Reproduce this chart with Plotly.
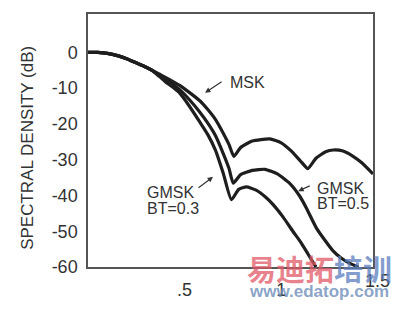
import plotly.graph_objects as go

# ---- data ----
freq_msk = [0, 0.05, 0.10, 0.157, 0.20, 0.243, 0.29, 0.33, 0.37, 0.40, 0.44, 0.476, 0.524, 0.58,
            0.62, 0.66, 0.70, 0.73, 0.755,
            0.79, 0.85, 0.94, 1.00, 1.05, 1.10, 1.138, 1.18, 1.23, 1.27, 1.32, 1.37, 1.42, 1.475]
msk_db = [0, -0.05, -0.3, -1.0, -1.8, -2.8, -3.9, -5.0, -6.1, -7.0, -8.2, -9.3, -11.2, -13.6,
          -16.0, -18.8, -22.6, -25.8, -29.1,
          -26.6, -24.8, -24.2, -25.3, -27.5, -30.4, -32.5, -29.6, -27.8, -27.3, -27.6, -29.0, -31.0, -34.0]

freq_b05 = [0, 0.05, 0.10, 0.157, 0.20, 0.243, 0.29, 0.33, 0.37, 0.40, 0.44, 0.476, 0.524, 0.58,
            0.62, 0.66, 0.70, 0.73, 0.752,
            0.79, 0.85, 0.916, 0.98, 1.045, 1.097, 1.13, 1.183, 1.23, 1.267, 1.31, 1.355, 1.40]
b05_db = [0, -0.05, -0.3, -1.0, -1.8, -2.8, -3.9, -5.0, -6.5, -7.6, -9.0, -10.5, -13.2, -16.8,
          -19.8, -23.3, -28.3, -32.5, -36.6,
          -34.2, -33.0, -32.7, -34.0, -36.7, -40.3, -43.5, -49.2, -52.8, -55.4, -57.5, -59.0, -60.0]

freq_b03 = [0, 0.05, 0.10, 0.157, 0.20, 0.243, 0.29, 0.33, 0.37, 0.40, 0.44, 0.476, 0.524, 0.58,
            0.62, 0.66, 0.70, 0.742,
            0.78, 0.82, 0.87, 0.92, 0.957, 1.009, 1.06, 1.10, 1.14, 1.18]
b03_db = [0, -0.05, -0.3, -1.0, -1.8, -2.8, -3.9, -5.0, -6.8, -8.2, -9.8, -11.5, -15.0, -19.6,
          -23.0, -27.4, -33.8, -41.2,
          -38.3, -37.6, -38.5, -40.5, -42.5, -46.0, -50.0, -53.0, -56.5, -60.0]

x_ticks = [0.5, 1.0]
x_tick_labels = [".5", "1"]
x_last_label = "1.5"
y_ticks = [0, -10, -20, -30, -40, -50, -60]
y_tick_labels = ["0", "-10", "-20", "-30", "-40", "-50", "-60"]

FONT = "Arial, Liberation Sans, sans-serif"
LINE = "#1e1e1e"
TXT = "#333333"

fig = go.Figure()
for fx, fy, nm in [(freq_msk, msk_db, "MSK"), (freq_b05, b05_db, "GMSK BT=0.5"),
                   (freq_b03, b03_db, "GMSK BT=0.3")]:
    fig.add_trace(go.Scatter(x=fx, y=fy, mode="lines", name=nm,
                             line=dict(color=LINE, width=3.2, shape="spline", smoothing=0.5),
                             cliponaxis=True, hoverinfo="skip"))

fig.update_layout(
    width=399, height=312,
    margin=dict(l=88, r=26, t=13, b=35),
    paper_bgcolor="white", plot_bgcolor="white",
    showlegend=False,
    font=dict(family=FONT, color=TXT, size=18),
)
fig.update_xaxes(range=[0, 1.475], tickvals=x_ticks, ticktext=x_tick_labels,
                 showgrid=False, zeroline=False, showline=True, mirror=True,
                 linecolor="#555555", linewidth=1.5, ticks="", ticklabelstandoff=6,
                 tickfont=dict(size=18, family=FONT, color=TXT))
fig.update_yaxes(range=[-60, 10.7], tickvals=y_ticks, ticktext=y_tick_labels,
                 showgrid=False, zeroline=False, showline=True, mirror=True,
                 linecolor="#555555", linewidth=1.5, ticks="", ticklabelstandoff=5,
                 tickfont=dict(size=18, family=FONT, color=TXT))

# last x tick label (1.5) lies just beyond the plotted range
fig.add_annotation(text=x_last_label, xref="paper", yref="paper", x=1.0175, y=-0.057,
                   xanchor="center", yanchor="middle", showarrow=False,
                   font=dict(size=18, family=FONT, color=TXT))

# y axis title
fig.add_annotation(text="SPECTRAL DENSITY (dB)", xref="paper", yref="paper",
                   x=-0.215, y=0.47, xanchor="center", yanchor="middle",
                   textangle=-90, showarrow=False,
                   font=dict(size=17, family=FONT, color=TXT))

# curve labels
ann_font = dict(size=16, family=FONT, color=TXT)
fig.add_annotation(text="MSK", x=0.725, y=-8.5, xanchor="left", yanchor="middle",
                   showarrow=False, font=ann_font)
fig.add_annotation(text="", x=0.606, y=-11.3, ax=18, ay=-12, showarrow=True,
                   arrowhead=2, arrowsize=0.9, arrowwidth=1.2, arrowcolor=TXT)

fig.add_annotation(text="GMSK", x=0.295, y=-39.2, xanchor="left", yanchor="middle",
                   showarrow=False, font=ann_font)
fig.add_annotation(text="BT=0.3", x=0.295, y=-43.6, xanchor="left", yanchor="middle",
                   showarrow=False, font=ann_font)
fig.add_annotation(text="", x=0.647, y=-34.8, ax=-16, ay=12, showarrow=True,
                   arrowhead=2, arrowsize=0.9, arrowwidth=1.2, arrowcolor=TXT)

fig.add_annotation(text="GMSK", x=1.175, y=-38.0, xanchor="left", yanchor="middle",
                   showarrow=False, font=ann_font)
fig.add_annotation(text="BT=0.5", x=1.175, y=-42.3, xanchor="left", yanchor="middle",
                   showarrow=False, font=ann_font)
fig.add_annotation(text="", x=1.088, y=-38.8, ax=13, ay=-6, showarrow=True,
                   arrowhead=2, arrowsize=0.9, arrowwidth=1.2, arrowcolor=TXT)

# watermark
wm_font = "Noto Sans CJK SC"
fig.add_annotation(text="<b>易迪拓</b>", xref="paper", yref="paper", x=0.709, y=-0.004,
                   xanchor="center", yanchor="middle", showarrow=False,
                   font=dict(size=29, family=wm_font, color="rgba(225,90,105,0.75)"))
fig.add_annotation(text="<b>培训</b>", xref="paper", yref="paper", x=0.965, y=-0.004,
                   xanchor="center", yanchor="middle", showarrow=False,
                   font=dict(size=29, family=wm_font, color="rgba(90,125,190,0.75)"))
fig.add_annotation(text="<b>www.edatop.com</b>", xref="paper", yref="paper", x=0.81, y=-0.095,
                   xanchor="center", yanchor="middle", showarrow=False,
                   font=dict(size=17, family=FONT, color="rgba(110,140,185,0.8)"))

fig.write_html("out.html")
